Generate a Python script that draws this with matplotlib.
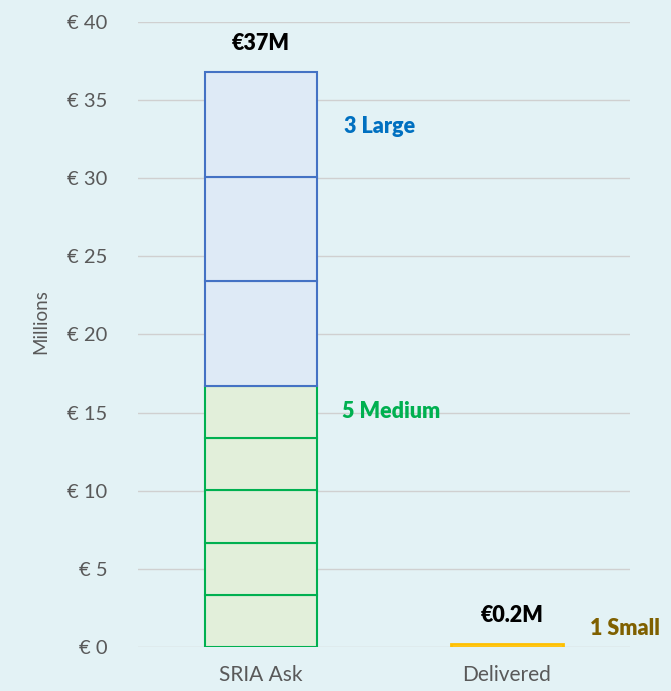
import matplotlib.pyplot as plt
import numpy as np

plt.rcParams['font.family'] = ['Lato', 'DejaVu Sans']

categories = ['SRIA Ask', 'Delivered']
medium_projects = [3.34, 3.34, 3.34, 3.34, 3.34]   # 5 medium, millions
large_projects = [6.7, 6.7, 6.7]                    # 3 large
small_projects = [0.2]                              # 1 small, delivered
totals_labels = ['€37M', '€0.2M']
yticks = [0, 5, 10, 15, 20, 25, 30, 35, 40]

bg = '#E3F2F5'
fig = plt.figure(figsize=(6.71, 6.91), dpi=100, facecolor=bg)
ax = fig.add_axes([0.2057, 0.0637, 0.7333, 0.9045], facecolor=bg)

x = np.arange(len(categories))
w = 0.455

# SRIA Ask stack: medium then large
bottom = 0
for v in medium_projects:
    ax.bar(x[0], v, w, bottom=bottom, color='#E2EFDA', edgecolor='#00B050', lw=1.5, zorder=3)
    bottom += v
for v in large_projects:
    ax.bar(x[0], v, w, bottom=bottom, color='#DEEAF6', edgecolor='#4472C4', lw=1.5, zorder=3)
    bottom += v
sria_total = bottom

# Delivered
ax.bar(x[1], small_projects[0], w, color='#FFF2CC', edgecolor='#FFC000', lw=2, zorder=3)

bold = dict(fontsize=15.5, fontweight='heavy')
ax.text(x[0], sria_total + 1.8, totals_labels[0], ha='center', va='center',
        color='black', **bold)
ax.text(x[1] + 0.02, small_projects[0] + 1.8, totals_labels[1], ha='center', va='center',
        color='black', **bold)

ax.text(x[0] + w / 2 + 0.11, 33.3, '3 Large', ha='left', va='center',
        color='#0070C0', **bold)
ax.text(x[0] + w / 2 + 0.1, 15.1, '5 Medium', ha='left', va='center',
        color='#00B050', **bold)
ax.text(x[1] + w / 2 + 0.11, 1.2, '1 Small', ha='left', va='center',
        color='#7F6000', clip_on=False, **bold)

ax.set_xlim(-0.5, 1.5)
ax.set_ylim(0, 40)
ax.set_yticks(yticks)
ax.set_yticklabels([f'€ {t}' for t in yticks], fontsize=14.5, color='#595959')
ax.set_xticks(x)
ax.set_xticklabels(categories, fontsize=15, color='#595959')
ax.tick_params(axis='x', length=0, pad=13)
ax.tick_params(axis='y', length=0, pad=22)
ax.grid(axis='y', color='#D0D0D0', lw=1, zorder=0)
ax.set_axisbelow(True)
for s in ax.spines.values():
    s.set_visible(False)
ax.set_ylabel('Millions', fontsize=13.5, color='#595959')
ax.yaxis.set_label_coords(-0.18, 0.52)

fig.savefig('out.png', dpi=100, facecolor=bg)
